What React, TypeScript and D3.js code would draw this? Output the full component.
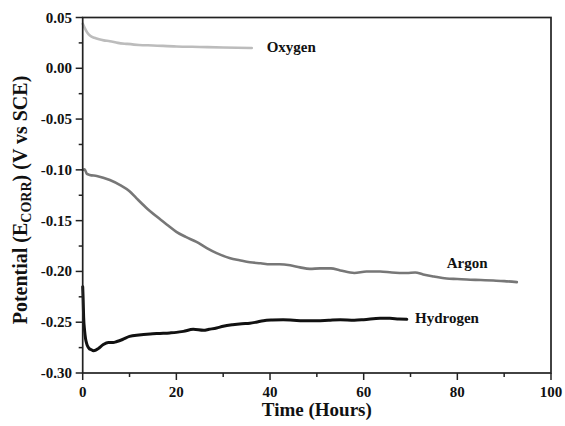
import React from "react";
import * as d3 from "d3";

const oxygenTime = [0, 0.5, 1, 1.6, 2.5, 3.5, 4.5, 5.8, 7.5, 9.5, 12, 15, 20, 25, 30, 36.1];
const oxygenValue = [0.044, 0.039, 0.035, 0.032, 0.030, 0.0285, 0.0275, 0.0267, 0.025, 0.024, 0.023, 0.0225, 0.0215, 0.021, 0.0205, 0.020];

const argonTime = [0, 0.4, 0.9, 1.5, 3, 5.8, 8, 10, 11.5, 13.5, 15.8, 18, 20, 22, 24.3, 26.5, 28.6, 31.5, 33.5, 35.7, 38, 40, 42, 44.3, 46.4, 48.5, 50.7, 53, 55, 58, 60.6, 63.5, 66, 69.2, 71, 72.7, 75, 77.7, 80, 82, 85, 87.7, 90, 92.7];
const argonValue = [-0.100, -0.0995, -0.104, -0.105, -0.106, -0.110, -0.115, -0.121, -0.128, -0.137, -0.146, -0.154, -0.161, -0.166, -0.171, -0.177, -0.182, -0.187, -0.189, -0.191, -0.192, -0.193, -0.193, -0.194, -0.196, -0.1975, -0.197, -0.197, -0.199, -0.2015, -0.200, -0.200, -0.201, -0.2015, -0.201, -0.203, -0.205, -0.207, -0.2075, -0.208, -0.2085, -0.209, -0.2095, -0.2105];

const hydrogenTime = [0, 0.1, 0.2, 0.4, 0.6, 0.85, 1.1, 1.4, 1.8, 2.3, 2.8, 3.3, 4.4, 5.5, 6.5, 7.3, 8.5, 10, 12, 14.4, 16.5, 18.6, 20, 21.5, 23.6, 25.8, 27, 28.6, 30, 32, 34, 35.7, 37, 38.6, 40.5, 42.8, 45, 47, 50, 52.5, 55, 58, 60, 63.5, 65.6, 67.5, 69.2];
const hydrogenValue = [-0.215, -0.228, -0.245, -0.258, -0.266, -0.271, -0.274, -0.276, -0.277, -0.278, -0.2775, -0.276, -0.272, -0.270, -0.270, -0.269, -0.267, -0.264, -0.2625, -0.2615, -0.261, -0.2605, -0.260, -0.259, -0.257, -0.258, -0.257, -0.2557, -0.254, -0.2525, -0.2515, -0.251, -0.250, -0.2485, -0.2478, -0.2475, -0.248, -0.2485, -0.2485, -0.248, -0.2475, -0.248, -0.2475, -0.246, -0.2462, -0.2468, -0.2472];

const xMajorTicks = [0, 20, 40, 60, 80, 100];
const xMinorTicks = [10, 30, 50, 70, 90];
const yMajorTicks = [0.05, 0.0, -0.05, -0.1, -0.15, -0.2, -0.25, -0.3];
const yMinorTicks = [0.025, -0.025, -0.075, -0.125, -0.175, -0.225, -0.275];
const yTickLabels = ["0.05", "0.00", "-0.05", "-0.10", "-0.15", "-0.20", "-0.25", "-0.30"];

const seriesNames = ["Oxygen", "Argon", "Hydrogen"];

const W = 565;
const H = 426;
const left = 82.7;
const right = 551;
const top = 17.5;
const bottom = 373;

const FONT = "'Liberation Serif', 'Times New Roman', serif";

export default function App() {
  const x = d3.scaleLinear().domain([0, 100]).range([left, right]);
  const y = d3.scaleLinear().domain([-0.3, 0.05]).range([bottom, top]);

  const line = d3
    .line<[number, number]>()
    .x((d) => x(d[0]))
    .y((d) => y(d[1]))
    .curve(d3.curveMonotoneX);

  const zip = (t: number[], v: number[]) => t.map((tt, i) => [tt, v[i]] as [number, number]);

  const series = [
    { name: seriesNames[0], data: zip(oxygenTime, oxygenValue), color: "#bcbcbc", width: 2.6, lx: 266.7, ly: 52 },
    { name: seriesNames[1], data: zip(argonTime, argonValue), color: "#777777", width: 2.6, lx: 446.7, ly: 268 },
    { name: seriesNames[2], data: zip(hydrogenTime, hydrogenValue), color: "#111111", width: 3, lx: 415, ly: 323 },
  ];

  return (
    <svg
      width={W}
      height={H}
      style={{ position: "absolute", left: 0, top: 0, background: "#fff" }}
      fontFamily={FONT}
      fontWeight="bold"
    >
      <rect x={0} y={0} width={W} height={H} fill="#fff" />
      {series.map((s) => (
        <path key={s.name} d={line(s.data) || ""} fill="none" stroke={s.color} strokeWidth={s.width} strokeLinejoin="round" strokeLinecap="round" />
      ))}
      <rect x={left} y={top} width={right - left} height={bottom - top} fill="none" stroke="#222" strokeWidth={1.7} />
      {xMajorTicks.map((t) => (
        <g key={"xm" + t}>
          <line x1={x(t)} x2={x(t)} y1={bottom} y2={bottom + 7} stroke="#222" strokeWidth={1.5} />
          <text x={x(t)} y={397} textAnchor="middle" fontSize={15} fill="#111">{t}</text>
        </g>
      ))}
      {xMinorTicks.map((t) => (
        <line key={"xn" + t} x1={x(t)} x2={x(t)} y1={bottom} y2={bottom + 4} stroke="#222" strokeWidth={1.5} />
      ))}
      {yMajorTicks.map((t, i) => (
        <g key={"ym" + t}>
          <line x1={left - 7} x2={left} y1={y(t)} y2={y(t)} stroke="#222" strokeWidth={1.5} />
          <text x={72} y={y(t) + 5} textAnchor="end" fontSize={15} fill="#111">{yTickLabels[i]}</text>
        </g>
      ))}
      {yMinorTicks.map((t) => (
        <line key={"yn" + t} x1={left - 4} x2={left} y1={y(t)} y2={y(t)} stroke="#222" strokeWidth={1.5} />
      ))}
      {series.map((s) => (
        <text key={"l" + s.name} x={s.lx} y={s.ly} fontSize={15} fill="#111">{s.name}</text>
      ))}
      <text x={(left + right) / 2} y={416} textAnchor="middle" fontSize={19} fill="#111">Time (Hours)</text>
      <text transform={`translate(27,200) rotate(-90)`} textAnchor="middle" fontSize={20} fill="#111">
        Potential (E<tspan dy={4} fontSize={14}>CORR</tspan><tspan dy={-4}>) (V vs SCE)</tspan>
      </text>
    </svg>
  );
}
